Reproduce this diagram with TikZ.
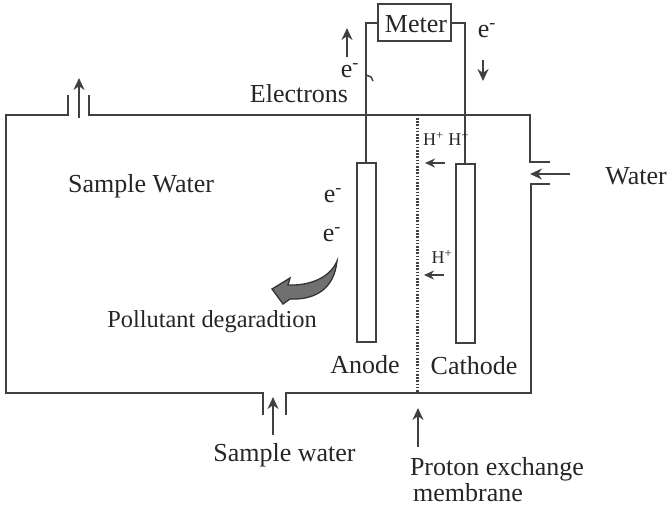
\documentclass[tikz,border=0pt]{standalone}
\usepackage{fontspec}
\setmainfont{Liberation Serif}
\usetikzlibrary{arrows.meta, positioning}
\definecolor{wallgray}{HTML}{404040}
\definecolor{blockgray}{HTML}{707070}

\begin{document}
\begin{tikzpicture}[
    x=1pt, y=-1pt,
    lbl/.style={inner sep=0pt, text=black!85, font=\fontsize{26}{29}\selectfont, align=center},
    small/.style={inner sep=0pt, text=black!85, font=\fontsize{18}{20}\selectfont},
    electrode/.style={draw=wallgray, line width=2pt, minimum width=19pt, minimum height=179pt, inner sep=0pt},
    wall/.style={draw=wallgray, line width=2pt},
    arr/.style={-{Stealth[length=12pt, width=11pt]}, draw=wallgray, line width=2pt}
]
\useasboundingbox (0,0) rectangle (672,507);

% meter and electrodes
\node (meter) [draw=wallgray, line width=2pt, minimum width=73pt, minimum height=37pt, inner sep=0pt] at (414.5,22.5) {};
\node [lbl] at (416,24) {Meter};
\node (anode) [electrode] at (366,252.5) {};
\node (cathode) [electrode] at (465,253) {};
\draw[wall] (meter.west) -| (anode.north);
\draw[wall] (meter.east) -| (cathode.north);
\draw[wall, line width=1.5pt] (366,75) -- (371,77) -- (373,81);

% tank
\draw[wall] (550,162) -- (530,162) -- (530,115) -- (89,115) -- (89,95);
\draw[wall] (68,95) -- (68,115) -- (6,115) -- (6,393) -- (263,393) -- (263,415);
\draw[wall] (286,415) -- (286,393) -- (531,393) -- (531,184) -- (550,184);
\draw[draw=wallgray, line width=3pt, dash pattern=on 1.6pt off 1.6pt] (417,118) -- (417,392);

% arrows
\coordinate (ventout) at (79,78);
\coordinate (ventin) at (79,118);
\coordinate (waterfrom) at (570,174);
\coordinate (waterto) at (530,174);
\coordinate (samplefrom) at (273,435);
\coordinate (sampleto) at (273,397);
\coordinate (pemfrom) at (418,447);
\coordinate (pemto) at (418,408);
\coordinate (eupfrom) at (347,57);
\coordinate (eupto) at (347,28);
\coordinate (edownfrom) at (483,60);
\coordinate (edownto) at (483,81);
\coordinate (hafrom) at (445,163);
\coordinate (hato) at (425,163);
\coordinate (hbfrom) at (444,275);
\coordinate (hbto) at (424,275);
\draw[arr] (ventin) -- (ventout);
\draw[arr] (waterfrom) -- (waterto);
\draw[arr] (samplefrom) -- (sampleto);
\draw[arr] (pemfrom) -- (pemto);
\draw[arr] (eupfrom) -- (eupto);
\draw[arr] (edownfrom) -- (edownto);
\draw[arr, -{Stealth[length=10pt, width=9pt]}] (hafrom) -- (hato);
\draw[arr, -{Stealth[length=10pt, width=9pt]}] (hbfrom) -- (hbto);

% pollutant arrow
\draw[draw=black!80, fill=blockgray, line width=1.3pt] (337,261) .. controls (331,276) and (312,286) .. (288,285)
    -- (290,278) -- (272,289) -- (283,304) -- (290,299) .. controls (314,300) and (334,290) .. cycle;

% labels
\node [lbl] at (299,94) {Electrons};
\node [lbl] at (141,186) {Sample Water};
\node [lbl] at (636,176) {Water};
\node [lbl, font=\fontsize{24.4}{28}\selectfont] at (212,322) {Pollutant degaradtion};
\node [lbl] at (365,364.5) {Anode};
\node [lbl] at (474,365.5) {Cathode};
\node [lbl] at (284.5,455) {Sample water};
\node [lbl] at (497,469) {Proton exchange};
\node [lbl] at (468,493) {membrane};
\node [lbl] at (487,31) {e\textsuperscript{-}};
\node [lbl] at (350,71) {e\textsuperscript{-}};
\node [lbl] at (333,196) {e\textsuperscript{-}};
\node [lbl] at (332,235) {e\textsuperscript{-}};
\node [small] at (446,139) {H\textsuperscript{+} H\textsuperscript{+}};
\node [small] at (442,257) {H\textsuperscript{+}};
\end{tikzpicture}
\end{document}
